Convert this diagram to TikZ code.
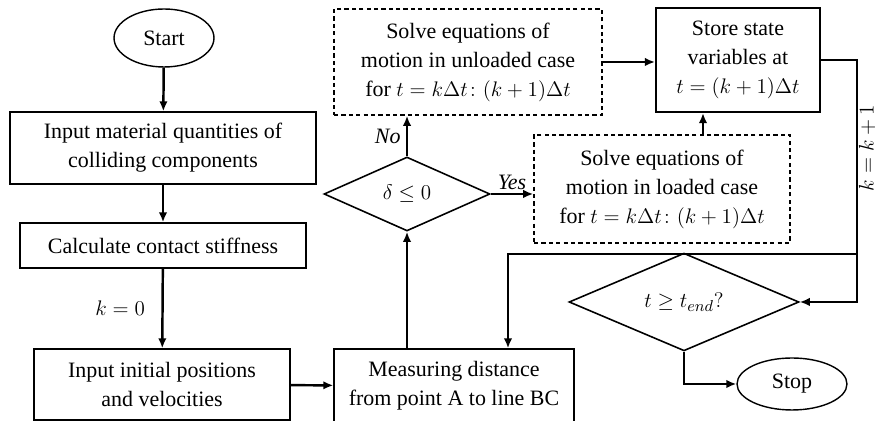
\documentclass[tikz,border=0pt]{standalone}
\usepackage{amsmath,amssymb}
\usepackage{fontspec}
\setmainfont{Liberation Serif}
\usepackage{tikz}
\usetikzlibrary{arrows.meta,shapes.geometric}

\begin{document}
\begin{tikzpicture}[x=0.02cm,y=-0.02cm,>={Latex[length=2mm,width=1.7mm]},
  every node/.style={font=\fontsize{12.5}{16.5}\selectfont},
  blk/.style={draw,line width=0.8pt,align=center,inner sep=0pt},
  dblk/.style={draw,dash pattern=on 2.4pt off 1.8pt,line width=0.9pt,align=center,inner sep=0pt},
  term/.style={draw,ellipse,line width=0.8pt,inner sep=0pt},
  cond/.style={draw,diamond,line width=0.9pt,inner sep=0pt},
  flow/.style={->,line width=1.4pt}]
  \useasboundingbox (0,0) rectangle (877,421);
  \node[term,minimum width=2cm,minimum height=1.16cm] (start) at (164,38) {Start};
  \node[blk,minimum width=6.12cm,minimum height=1.44cm] (matq) at (163,148)
    {Input material quantities of\\colliding components};
  \node[blk,minimum width=5.72cm,minimum height=0.9cm] (stiff) at (163,245.5) {Calculate contact stiffness};
  \node[blk,minimum width=5.12cm,minimum height=1.42cm] (initpos) at (162,384.5)
    {Input initial positions\\and velocities};
  \node[blk,minimum width=4.8cm,minimum height=1.48cm] (measure) at (454,386)
    {Measuring distance\\from point A to line BC};
  \node[cond,minimum width=3.32cm,minimum height=1.48cm] (delta) at (407,194) {$\delta\leq 0$};
  \node[dblk,minimum width=5.36cm,minimum height=2.12cm] (unld) at (468,62)
    {Solve equations of\\motion in unloaded case\\for $t=k\Delta t\colon(k+1)\Delta t$};
  \node[dblk,minimum width=5.12cm,minimum height=2.16cm] (ld) at (662,189)
    {Solve equations of\\motion in loaded case\\for $t=k\Delta t\colon(k+1)\Delta t$};
  \node[blk,line width=1.2pt,minimum width=3.28cm,minimum height=2.08cm] (store) at (738,60)
    {Store state\\variables at\\$t=(k+1)\Delta t$};
  \node[cond,minimum width=4.6cm,minimum height=1.68cm] (tend) at (684,302) {$t\geq t_{end}?$};
  \node[term,minimum width=2.2cm,minimum height=1.04cm] (stop) at (792,384) {Stop};
  \coordinate (lp) at (703,0);
  \coordinate (rr) at (857,0);
  \coordinate (br) at (857,254);
  \coordinate (dn) at (508,254);
  \draw[flow] (start) -- (matq);
  \draw[flow] (matq) -- (stiff);
  \draw[flow] (stiff) -- node[left,xshift=-6pt] {$k=0$} (initpos);
  \draw[flow] (initpos) -- (measure);
  \draw[flow] (delta.south |- measure.north) -- (delta.south);
  \draw[flow] (delta.north) -- node[left,inner sep=3pt] {\textit{No}} (delta.north |- unld.south);
  \draw[flow] (delta.east) -- node[above,inner sep=2pt] {\textit{Yes}} (delta.east -| ld.west);
  \draw[flow] (unld.east) -- (unld.east -| store.west);
  \draw[flow] (lp |- ld.north) -- (lp |- store.south);
  \draw[flow] (store.east) -| (rr |- tend.east) -- (tend.east);
  \node[rotate=90,inner sep=0pt] (incr) at (867,148) {$k=k+1$};
  \draw[flow] (br) -- (dn) -- (dn |- measure.north);
  \draw[flow] (tend.south) |- (stop.west);
\end{tikzpicture}
\end{document}
